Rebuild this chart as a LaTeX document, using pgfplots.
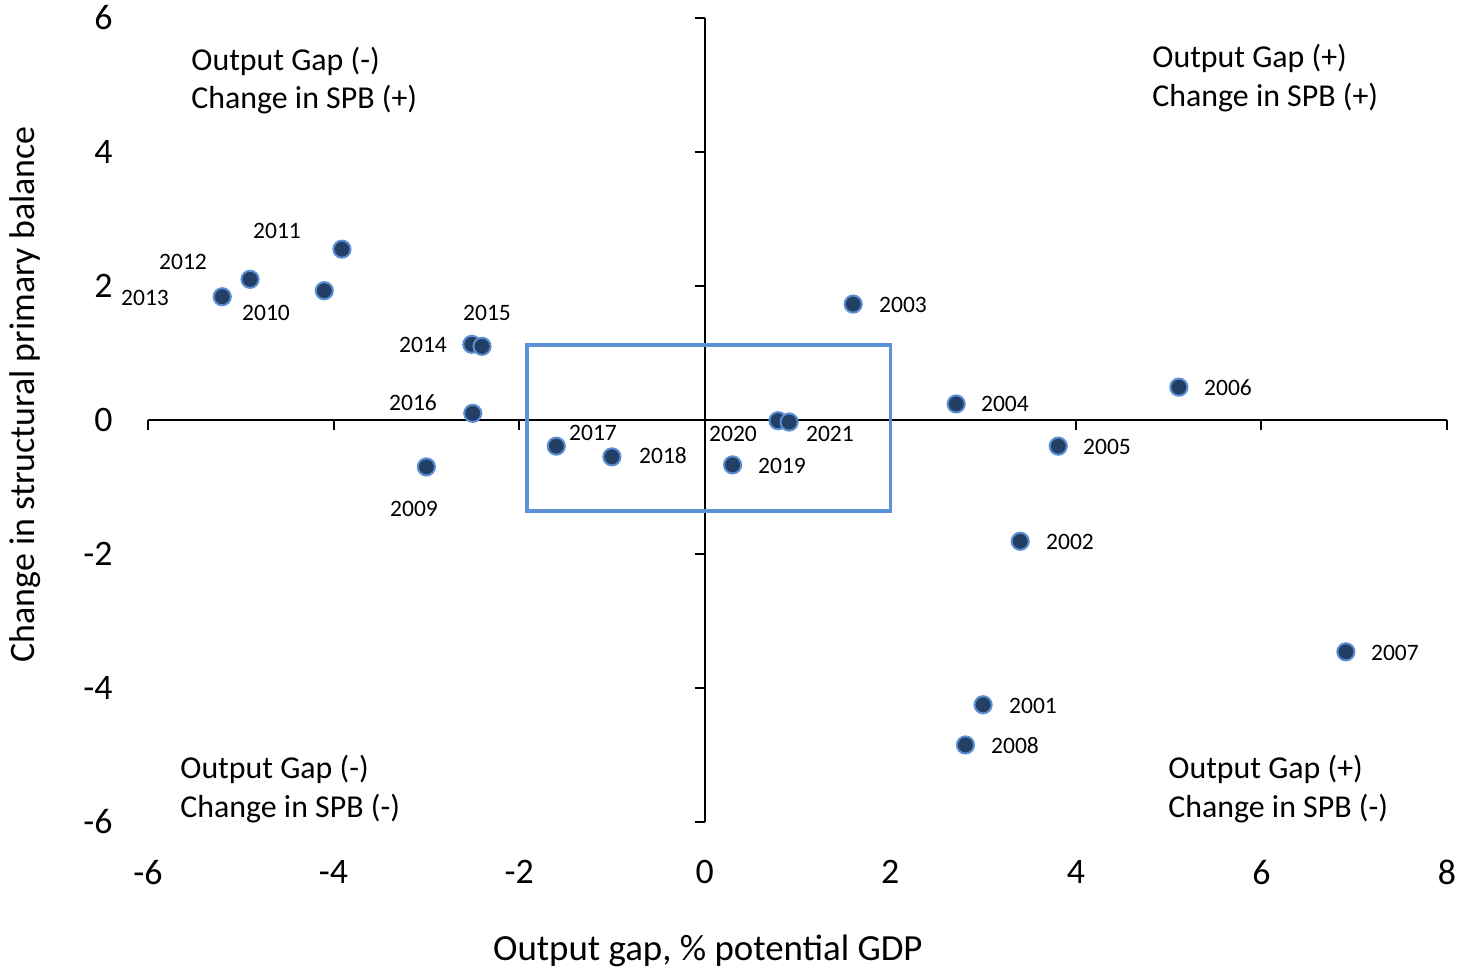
\documentclass[border=0pt]{standalone}
\usepackage{pgfplots}
\usepackage{pgfplotstable}
\pgfplotsset{compat=1.18}
\usepackage{fontspec}
\setmainfont{Carlito}
\definecolor{ptfill}{HTML}{243F66}
\definecolor{ptedge}{HTML}{5B8FD3}
\definecolor{boxblue}{HTML}{5B93D6}

\pgfplotstableread{
x y lx ly year
3.00 -4.25 3.538 -4.269 2001
3.40 -1.81 3.937 -1.821 2002
1.60 1.73 2.137 1.716 2003
2.71 0.24 3.236 0.239 2004
3.81 -0.39 4.336 -0.403 2005
5.11 0.49 5.640 0.478 2006
6.91 -3.46 7.439 -3.478 2007
2.81 -4.85 3.344 -4.866 2008
-3.00 -0.70 -3.133 -1.328 2009
-4.10 1.93 -4.728 1.597 2010
-3.91 2.55 -4.609 2.821 2011
-4.90 2.10 -5.622 2.358 2012
-5.20 1.84 -6.032 1.821 2013
-2.51 1.13 -3.036 1.119 2014
-2.40 1.10 -2.346 1.597 2015
-2.50 0.10 -3.144 0.254 2016
-1.60 -0.39 -1.204 -0.194 2017
-1.00 -0.55 -0.449 -0.537 2018
0.30 -0.67 0.833 -0.687 2019
0.79 -0.01 0.305 -0.209 2020
0.91 -0.03 1.350 -0.209 2021
}\datatable

\pgfplotsset{common/.style={x=46.395bp, y=33.5bp, xmin=-6, xmax=8, ymin=-6, ymax=6,
  at={(0,0)}, anchor=south west, clip=false}}

\begin{document}
\begin{tikzpicture}
% axis 1: tick labels and axis labels at the edges
\begin{axis}[common,
  axis line style={draw=none},
  major tick length=0pt,
  xtick={-6,-4,...,8}, ytick={-6,-4,...,6},
  tick label style={font=\fontsize{18}{20}\selectfont},
  /pgf/number format/assume math mode=true,
  xticklabel style={anchor=north, inner sep=0pt, yshift=-19bp},
  yticklabel style={anchor=east, inner sep=0pt, xshift=-17.5bp},
  xlabel={Output gap, \% potential GDP},
  ylabel={Change in structural primary balance},
  every axis x label/.style={at={(rel axis cs:0.431,-0.172)}, anchor=base, font=\fontsize{18.5}{20}\selectfont},
  every axis y label/.style={at={(rel axis cs:-0.0947,0.532)}, anchor=center, rotate=90, font=\fontsize{18}{20}\selectfont},
]
\addplot[draw=none, mark=none, forget plot] coordinates {(0,0)};
\end{axis}
% axis 2: lines through origin and data
\begin{axis}[common,
  axis lines=middle,
  axis line style={-, line width=1bp, black},
  xtick={-6,-4,-2,2,4,6,8}, ytick={-6,-4,-2,2,4,6},
  xticklabels={}, yticklabels={},
  tick align=outside,
  major tick length=5bp,
  tick style={line width=1bp, black},
]
\addplot[boxblue, line width=1.75bp, mark=none, line cap=rect, line join=miter]
  coordinates {(-1.915,-1.36) (2.0,-1.36) (2.0,1.12) (-1.915,1.12) (-1.915,-1.36)};
\addplot[only marks, mark=*, mark size=4.3bp,
  mark options={fill=ptfill, draw=ptedge, line width=1bp}]
  table[x=x, y=y] {\datatable};
\addplot[draw=none, mark=none, nodes near coords, point meta=explicit symbolic,
  nodes near coords align={center},
  every node near coord/.append style={anchor=center, inner sep=0pt, text=black,
    font=\fontsize{11.8}{13}\selectfont}]
  table[x=lx, y=ly, meta=year] {\datatable};

\node[anchor=west, align=left, inner sep=0pt, font=\fontsize{16}{19.5}\selectfont]
  at (axis cs:-5.536,5.067) {Output Gap (-)\\Change in SPB (+)};
\node[anchor=west, align=left, inner sep=0pt, font=\fontsize{16}{19.5}\selectfont]
  at (axis cs:4.821,5.104) {Output Gap (+)\\Change in SPB (+)};
\node[anchor=west, align=left, inner sep=0pt, font=\fontsize{16}{19.5}\selectfont]
  at (axis cs:-5.655,-5.508) {Output Gap (-)\\Change in SPB (-)};
\node[anchor=west, align=left, inner sep=0pt, font=\fontsize{16}{19.5}\selectfont]
  at (axis cs:4.993,-5.508) {Output Gap (+)\\Change in SPB (-)};

\coordinate (bbsw) at (axis cs:-7.595,-8.239);
\coordinate (bbne) at (axis cs:8.14,6.269);
\end{axis}
\pgfresetboundingbox
\path[use as bounding box] (bbsw) rectangle (bbne);
\end{tikzpicture}
\end{document}
